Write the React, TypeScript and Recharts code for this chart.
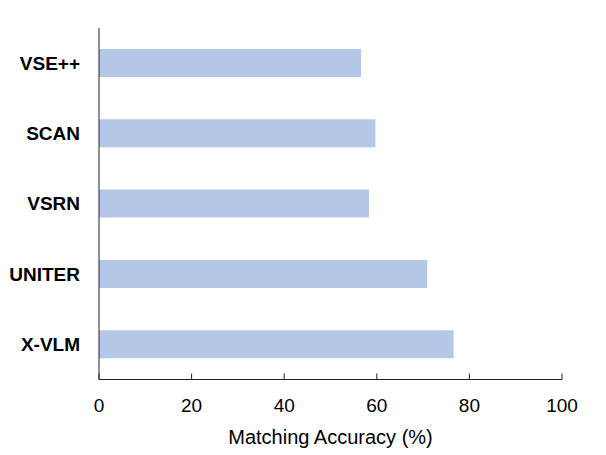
import { BarChart, Bar, XAxis, YAxis } from 'recharts';

const models = ['VSE++', 'SCAN', 'VSRN', 'UNITER', 'X-VLM'];
const accuracy = [56.6, 59.7, 58.3, 70.9, 76.6];
const xTicks = [0, 20, 40, 60, 80, 100];

const data = models.map((name, i) => ({ name, accuracy: accuracy[i] }));

const font = 'Liberation Sans, Arial, sans-serif';
const TICK_GAP = 18;

// ticks point inward (up from the axis line), so draw them with the label
const XTick = ({ x, y, payload }: any) => (
  <g>
    <line x1={x} x2={x} y1={y - TICK_GAP - 6} y2={y - TICK_GAP} stroke="#222" />
    <text x={x} y={y + 14} textAnchor="middle" fill="#000" fontSize={19} fontFamily={font}>
      {payload.value}
    </text>
  </g>
);

const App = () => {
  return (
    <div style={{ position: 'absolute', left: 0, top: 0, background: '#fff' }}>
      <BarChart
        width={606}
        height={455}
        data={data}
        layout="vertical"
        margin={{ top: 28, right: 44, left: 0, bottom: 5.5 }}
      >
        <XAxis
          type="number"
          domain={[0, 100]}
          ticks={xTicks}
          height={70}
          stroke="#222"
          tickLine={false}
          tickSize={0}
          tickMargin={TICK_GAP}
          tick={<XTick />}
          label={{
            value: 'Matching Accuracy (%)',
            position: 'insideBottom',
            offset: 5.5,
            fill: '#000',
            fontSize: 20,
            fontFamily: font,
          }}
        />
        <YAxis
          type="category"
          dataKey="name"
          width={99}
          stroke="#222"
          tickLine={false}
          tickSize={0}
          tickMargin={19}
          tick={{ fill: '#000', fontSize: 19, fontWeight: 'bold', fontFamily: font }}
        />
        <Bar dataKey="accuracy" fill="#b4c7e7" barSize={28} isAnimationActive={false} />
      </BarChart>
    </div>
  );
};

export default App;
